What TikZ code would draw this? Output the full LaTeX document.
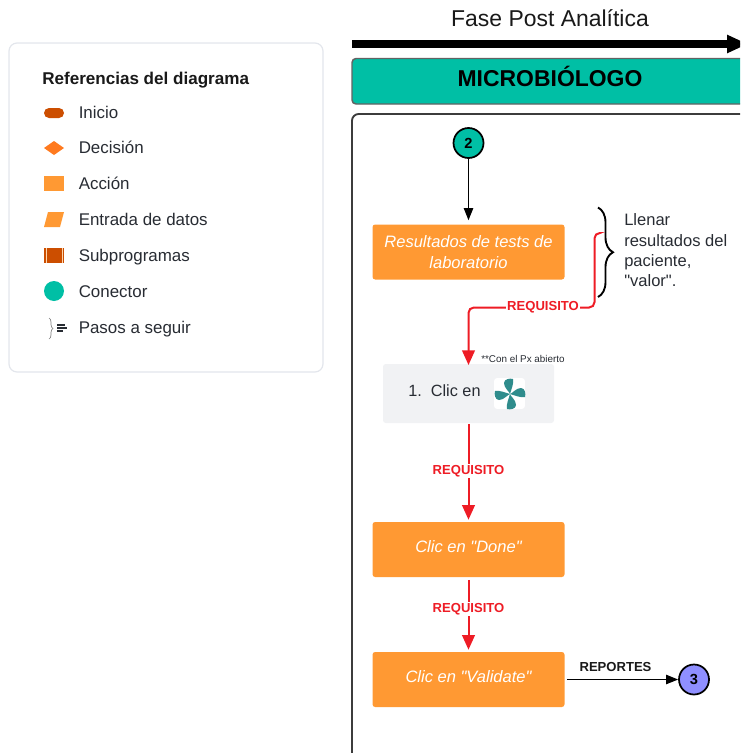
\documentclass[tikz,border=0pt]{standalone}
\usepackage{fontspec}
\setmainfont[Ligatures=TeXOff]{Liberation Sans}
\usetikzlibrary{arrows.meta,decorations.pathreplacing,shapes.geometric,calc}
\definecolor{naranja}{HTML}{FF9933}
\definecolor{naranjaosc}{HTML}{CC4E00}
\definecolor{naranjadec}{HTML}{FF7A1F}
\definecolor{verdecon}{HTML}{00BFA5}
\definecolor{lilacon}{HTML}{8F8FFF}
\definecolor{rojoreq}{HTML}{EE1C25}
\definecolor{grisbox}{HTML}{F1F2F4}
\definecolor{grisline}{HTML}{E3E6EC}
\definecolor{grisborde}{HTML}{3C3C3C}
\definecolor{texto}{HTML}{282C33}
\definecolor{fan}{HTML}{2F8C8C}
\tikzset{
  accion/.style={fill=naranja,rounded corners=2pt,minimum width=144pt,minimum height=41.25pt,
    text=white,align=center,font=\fontsize{12.4}{15}\selectfont\itshape,inner sep=0pt},
  accionuna/.style={accion,text height=9pt,text depth=3.8pt},
  conector/.style={circle,draw=black,line width=1.3pt,minimum size=22.5pt,inner sep=0pt,
    font=\fontsize{11}{13}\selectfont\bfseries},
  leyenda/.style={anchor=west,text=texto,inner sep=0pt,font=\fontsize{12.7}{15}\selectfont},
  requisito/.style={fill=white,text=rojoreq,inner sep=0.6pt,font=\fontsize{9.8}{12}\selectfont\bfseries},
  flecharoja/.style={draw=rojoreq,line width=1.5pt,-{Triangle[length=11pt,width=9.5pt]}},
  flechanegra/.style={draw=black,line width=0.8pt,-{Triangle[length=9pt,width=7pt]}},
}
\begin{document}
\begin{tikzpicture}[x=0.75pt,y=-0.75pt]
  \useasboundingbox (0,0) rectangle (740,753);
  \clip (0,0) rectangle (740,753);
  % referencias
  \draw[grisline,fill=white,line width=0.9pt,rounded corners=6pt] (9,43) rectangle (323,372);
  \node[anchor=west,inner sep=0pt,font=\fontsize{12.8}{15}\selectfont\bfseries,text=black!90] (reftitulo) at (42,80) {Referencias del diagrama};
  \fill[naranjaosc,rounded corners=3.75pt] (44,108) rectangle (64,118);
  \node[leyenda] (refinicio) at (78.5,112.5) {Inicio};
  \fill[naranjadec] (44,148) -- (54,141) -- (64,148) -- (54,155) -- cycle;
  \node[leyenda] (refdecision) at (78.5,147) {Decisión};
  \fill[naranja] (44,176) rectangle (64,191);
  \node[leyenda] (refaccion) at (78.5,183) {Acción};
  \fill[naranja] (44,227) -- (48,212) -- (64,212) -- (60,227) -- cycle;
  \node[leyenda] (refentrada) at (78.5,219.5) {Entrada de datos};
  \fill[naranjaosc] (44,248) rectangle (64,263);
  \draw[naranja!40,line width=0.4pt] (46,248) -- (46,263) (62,248) -- (62,263);
  \node[leyenda] (refsub) at (78.5,257) {Subprogramas};
  \fill[verdecon] (54,291) circle (10);
  \node[leyenda] (refcon) at (78.5,292) {Conector};
  \draw[gray,line width=0.5pt,decorate,decoration={brace,amplitude=3pt}] (49,318) -- (49,339);
  \draw[texto,line width=1.1pt] (57,325) -- (65,325) (57,328) -- (67,328) (57,331) -- (63,331);
  \node[leyenda] (refpasos) at (78.5,329) {Pasos a seguir};
  % fase
  \node[font=\fontsize{17.2}{20}\selectfont,text=black!90] (fase) at (550,18.5) {Fase Post Analítica};
  \coordinate (faseini) at (352,44);
  \coordinate (fasefin) at (748,44);
  \draw[line width=5.6pt,-{Triangle[length=15.75pt,width=12.75pt]}] (faseini) -- (fasefin);
  \draw[grisborde!80,fill=verdecon,line width=1.1pt,rounded corners=3pt] (352,58.5) rectangle (770,104);
  \node[font=\fontsize{17.2}{20}\selectfont\bfseries] (micro) at (550,76.5) {MICROBIÓLOGO};
  \draw[grisborde,line width=1.4pt,rounded corners=5pt] (352,114) rectangle (770,790);
  % flujo
  \node[conector,fill=verdecon] (c2) at (468.5,143) {2};
  \node[accion] (resultados) at (468.5,252) {Resultados de tests de\\[0.5pt]laboratorio};
  \node[fill=grisbox,rounded corners=2pt,minimum width=128.25pt,minimum height=44.25pt] (clic) at (468.5,393.5) {};
  \node[anchor=west,inner sep=0pt,text=texto,font=\fontsize{12.2}{15}\selectfont] (clictxt) at (408,391) {1.\ \ Clic en};
  \node[fill=white,rounded corners=2pt,minimum size=23pt,inner sep=0pt] (icono) at (509.5,393.5) {};
  \foreach \ang in {0,90,180,270} {
    \fill[fan,shift={(510,394)},rotate=\ang] (0,0) .. controls (-1,-3) and (-6,-6) .. (-6,-11) .. controls (-6,-15) and (0,-16) .. (3,-15) .. controls (4,-10) and (1,-4) .. (0,0);
  }
  \node[anchor=west,inner sep=0pt,text=texto,font=\fontsize{7.4}{9}\selectfont] (nota) at (481,359) {**Con el Px abierto};
  \node[accionuna] (done) at (468.5,549.5) {Clic en "Done"};
  \node[accionuna] (validate) at (468.5,679.5) {Clic en "Validate"};
  \node[conector,fill=lilacon] (c3) at (694,679.5) {3};
  \coordinate (llave1) at (598,207.5);
  \coordinate (llave2) at (598,297);
  \draw[black,line width=1.4pt,decorate,decoration={brace,amplitude=11.25pt,aspect=0.5}] (llave1) -- (llave2);
  \node[anchor=north west,align=left,inner sep=0pt,text=texto,font=\fontsize{12.4}{15.2}\selectfont] (llenar) at (624,213.5) {Llenar\\resultados del\\paciente,\\"valor".};
  \draw[flechanegra] (c2) -- ([yshift=3pt]resultados.north);
  \coordinate (reqini) at (599,233);
  \draw[flecharoja,rounded corners=4pt] (reqini) -- (594.5,233) -- (594.5,307.5) -- (468.5,307.5) -- (468.5,365);
  \node[requisito] (req1) at (543,307) {REQUISITO};
  \draw[flecharoja] ([yshift=-0.5pt]clic.south) -- ([yshift=1.5pt]done.north);
  \node[requisito] (req2) at (468.5,471) {REQUISITO};
  \draw[flecharoja] ([yshift=-2pt]done.south) -- ([yshift=1.5pt]validate.north);
  \node[requisito] (req3) at (468.5,609) {REQUISITO};
  \draw[flechanegra] ([xshift=1.5pt]validate.east) -- (c3);
  \node[inner sep=0pt,font=\fontsize{9.8}{12}\selectfont\bfseries,text=black!90] (reportes) at (615.5,667) {REPORTES};
\end{tikzpicture}
\end{document}
